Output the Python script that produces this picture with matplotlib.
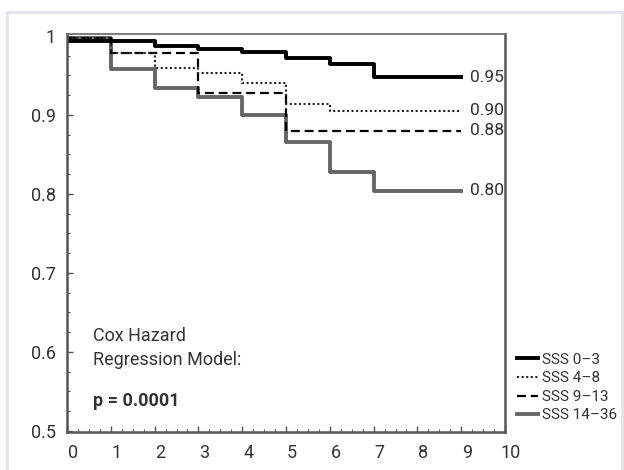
import numpy as np
import matplotlib
matplotlib.use('Agg')
import matplotlib.pyplot as plt
import matplotlib.transforms as mtransforms
from matplotlib.patches import Rectangle
from matplotlib.ticker import MultipleLocator

plt.rcParams['font.family'] = ['Roboto', 'DejaVu Sans']

# follow-up years and survival estimates for each SSS group (step curves)
years = [0, 1, 2, 3, 4, 5, 6, 7, 8, 9]
sss_0_3 = [0.994, 0.994, 0.987, 0.984, 0.980, 0.9725, 0.965, 0.948, 0.948, 0.948]
sss_4_8 = [0.998, 0.978, 0.960, 0.953, 0.941, 0.914, 0.905, 0.905, 0.905, 0.905]
sss_9_13 = [0.998, 0.978, 0.978, 0.928, 0.928, 0.880, 0.880, 0.880, 0.880, 0.880]
sss_14_36 = [0.998, 0.958, 0.934, 0.923, 0.900, 0.866, 0.828, 0.804, 0.804, 0.804]

labels = ['SSS 0\u20133', 'SSS 4\u20138', 'SSS 9\u201313', 'SSS 14\u201336']
end_labels = ['0.95', '0.90', '0.88', '0.80']
yticks = [0.5, 0.6, 0.7, 0.8, 0.9, 1.0]
yticklabels = ['0.5', '0.6', '0.7', '0.8', '0.9', '1']

txt = '#333333'
fs = 13
fig = plt.figure(figsize=(6.24, 4.70), dpi=100)
# light frame around the whole figure
fig.patches.append(Rectangle((7 / 624, -0.1), 615 / 624, 1.1 - 12 / 470,
                             transform=fig.transFigure, fill=False,
                             edgecolor='#dde2ef', linewidth=2))
ax = fig.add_axes([67 / 624, 38 / 470, 438 / 624, 398 / 470])

series = [sss_0_3, sss_4_8, sss_9_13, sss_14_36]
styles = [dict(color='black', lw=2.8, ls='-'),
          dict(color='#222222', lw=1.5, ls=(0, (1, 1.2))),
          dict(color='black', lw=1.6, ls=(0, (4, 2.2))),
          dict(color='#666666', lw=2.8, ls='-')]
order = [3, 2, 1, 0]
handles = [None] * 4
for i in order:
    h, = ax.step(years, series[i], where='post', label=labels[i], **styles[i])
    handles[i] = h

for i in range(4):
    ax.text(9.2, series[i][-1], end_labels[i], va='center', ha='left',
            fontsize=12.5, color=txt)

ax.text(0.6, 0.605, 'Cox Hazard\nRegression Model:', fontsize=fs, color=txt,
        va='center', linespacing=1.4)
ax.text(0.6, 0.538, 'p = 0.0001', fontsize=fs, color=txt, va='center',
        fontweight='bold')

ax.set_xlim(0, 10)
ax.set_ylim(0.4985, 1.0025)
ax.set_xticks(range(0, 11))
ax.xaxis.set_minor_locator(MultipleLocator(0.25))
ax.set_yticks(yticks)
ax.set_yticklabels(yticklabels)
ax.yaxis.set_minor_locator(MultipleLocator(0.025))
ax.tick_params(which='both', direction='in', color='#555555', labelcolor=txt,
               labelsize=fs)
ax.tick_params(which='major', length=4, width=1)
ax.tick_params(which='minor', length=2.5, width=0.8)
ax.tick_params(axis='x', pad=9)
ax.tick_params(axis='y', pad=8)
offset = mtransforms.ScaledTranslation(0.06, 0, fig.dpi_scale_trans)
for lab in ax.get_xticklabels():
    lab.set_transform(lab.get_transform() + offset)

for side in ['left', 'bottom', 'right']:
    ax.spines[side].set_color('#555555')
    ax.spines[side].set_linewidth(1.8)
ax.spines['top'].set_color('#666666')
ax.spines['top'].set_linewidth(1.2)

leg = ax.legend(handles=handles, loc='lower left', bbox_to_anchor=(1.027, 0.024),
                frameon=False, fontsize=11, handlelength=1.4,
                handletextpad=0.25, labelspacing=0.3, borderaxespad=0,
                borderpad=0)
for t in leg.get_texts():
    t.set_color(txt)

fig.savefig('out.png', dpi=100)
